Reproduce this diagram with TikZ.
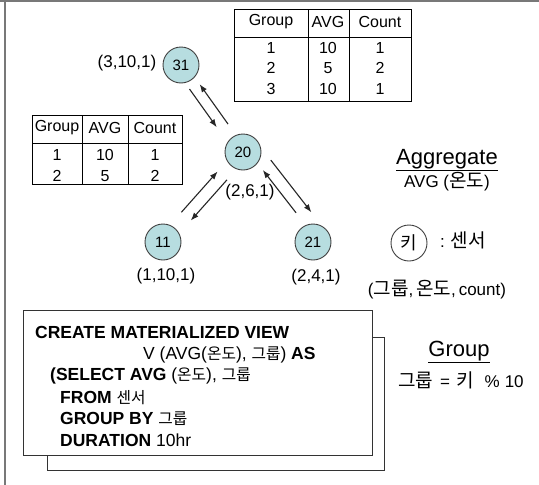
\documentclass[tikz,border=0pt]{standalone}
\usepackage{fontspec}
\setmainfont{Liberation Sans}
\newfontfamily\kr[Scale=1.12]{Noto Sans CJK KR}
\newfontfamily\krs[Scale=0.9]{Noto Sans CJK KR}
\usetikzlibrary{arrows.meta,calc}
\newcommand\K[1]{{\kr #1}}
\newcommand\KS[1]{{\krs #1}}
\definecolor{nodefill}{RGB}{183,221,224}
\definecolor{framegray}{RGB}{120,120,120}
\tikzset{
  sensor/.style={circle, draw=black!75, line width=0.9pt, fill=nodefill, minimum size=36pt, inner sep=0pt, font=\fontsize{15}{18}\selectfont},
  legendc/.style={sensor, fill=white, font=\fontsize{16}{20}\selectfont},
  lbl/.style={inner sep=0pt, font=\fontsize{17}{20}\selectfont},
  tbl/.style={inner sep=0pt, font=\fontsize{16}{19}\selectfont},
  tline/.style={draw=black, line width=0.9pt},
  arr/.style={draw=black!85, line width=1.1pt, -{Latex[length=8pt,width=6pt]}},
  sql/.style={inner sep=0pt, anchor=west, font=\fontsize{17.5}{20}\selectfont},
  title/.style={inner sep=0pt, font=\fontsize{22}{26}\selectfont},
  boxline/.style={draw=black!80, line width=0.9pt}
}
\begin{document}
\begin{tikzpicture}[x=1pt,y=-1pt]
\useasboundingbox (0,0) rectangle (539,485);
\fill[white] (0,0) rectangle (539,485);
% outer frame (top and left)
\draw[framegray, line width=2pt] (0,1) -- (539,1);
\draw[framegray, line width=1.5pt] (5,1) -- (5,485);

% sensor nodes
\node[sensor] (n31) at (181,65) {31};
\node[sensor] (n20) at (243,152) {20};
\node[sensor] (n11) at (163,242) {11};
\node[sensor] (n21) at (313,242) {21};

\node[lbl] (l31) at (127,63) {(3,10,1)};
\node[lbl] (l20) at (250,192) {(2,6,1)};
\node[lbl] (l11) at (166,276) {(1,10,1)};
\node[lbl] (l21) at (316,277) {(2,4,1)};

% connectors 31 - 20
\draw[arr, transform canvas={xshift=-5.7pt,yshift=-4.1pt}, shorten <=6pt, shorten >=17pt] (n31) -- (n20);
\draw[arr, transform canvas={xshift=3.3pt,yshift=2.3pt}, shorten <=13pt, shorten >=8pt] (n20) -- (n31);
% connectors 20 - 11
\draw[arr, transform canvas={xshift=-4.5pt,yshift=4.0pt}, shorten <=16pt, shorten >=13pt] (n11) -- (n20);
\draw[arr, transform canvas={xshift=4.9pt,yshift=-4.3pt}, shorten <=13pt, shorten >=16pt] (n20) -- (n11);
% connectors 20 - 21
\draw[arr, transform canvas={xshift=13.4pt,yshift=10.4pt}, shorten <=5pt, shorten >=6pt] (n20) -- (n21);
\draw[arr, transform canvas={xshift=3.6pt,yshift=2.8pt}, shorten <=15pt, shorten >=8pt] (n21) -- (n20);

% top table
\draw[tline] (234,9) rectangle (411,101);
\draw[tline] (308,9) -- (308,101);
\draw[tline] (349,9) -- (349,101);
\draw[tline] (234,37) -- (411,37);
\node[tbl] (ta1) at (271,22) {Group};
\node[tbl] (ta2) at (328,22) {AVG};
\node[tbl] (ta3) at (380,22) {Count};
\node[tbl] (ta4) at (271,48) {1};
\node[tbl] (ta5) at (328,48) {10};
\node[tbl] (ta6) at (380,48) {1};
\node[tbl] (ta7) at (271,68) {2};
\node[tbl] (ta8) at (328,68) {5};
\node[tbl] (ta9) at (380,68) {2};
\node[tbl] (ta10) at (271,89) {3};
\node[tbl] (ta11) at (328,89) {10};
\node[tbl] (ta12) at (380,89) {1};

% left table
\draw[tline] (32,115) rectangle (182,184);
\draw[tline] (82,115) -- (82,184);
\draw[tline] (128,115) -- (128,184);
\draw[tline] (32,143) -- (182,143);
\node[tbl] (tb1) at (57,128) {Group};
\node[tbl] (tb2) at (105,128) {AVG};
\node[tbl] (tb3) at (155,128) {Count};
\node[tbl] (tb4) at (57,155) {1};
\node[tbl] (tb5) at (105,155) {10};
\node[tbl] (tb6) at (155,155) {1};
\node[tbl] (tb7) at (57,176) {2};
\node[tbl] (tb8) at (105,176) {5};
\node[tbl] (tb9) at (155,176) {2};

% Aggregate
\node[title] (agg) at (447,160) {\underline{Aggregate}};
\node[lbl] (avg) at (447,182) {AVG (\K{온도})};

% legend
\node[legendc] (leg) at (409,243) {\K{키}};
\node[lbl, anchor=west] (legt) at (440,240) {:\hspace{0.35em}\K{센서}};
\node[lbl] (legf) at (437,290) {(\K{그룹},\,\K{온도},\,count)};

% SQL box
\draw[boxline] (47,337) rectangle (384,470);
\draw[boxline, fill=white] (23,310) rectangle (372,455);
\node[sql] (q1) at (35,332) {\textbf{CREATE MATERIALIZED VIEW}};
\node[sql] (q2) at (143,355) {V (AVG(\KS{온도}), \KS{그룹}) \textbf{AS}};
\node[sql] (q3) at (50,376) {\textbf{(SELECT AVG} (\KS{온도}), \KS{그룹}};
\node[sql] (q4) at (60,398) {\textbf{FROM} \KS{센서}};
\node[sql] (q5) at (60,419) {\textbf{GROUP BY} \KS{그룹}};
\node[sql] (q6) at (60,440) {\textbf{DURATION} 10hr};

% Group
\node[title] (grp) at (459,352) {\underline{Group}};
\node[lbl] (grpf) at (461,380) {\K{그룹}\hspace{0.4em}=\hspace{0.4em}\K{키}\hspace{0.6em}\%\hspace{0.3em}10};
\end{tikzpicture}
\end{document}
